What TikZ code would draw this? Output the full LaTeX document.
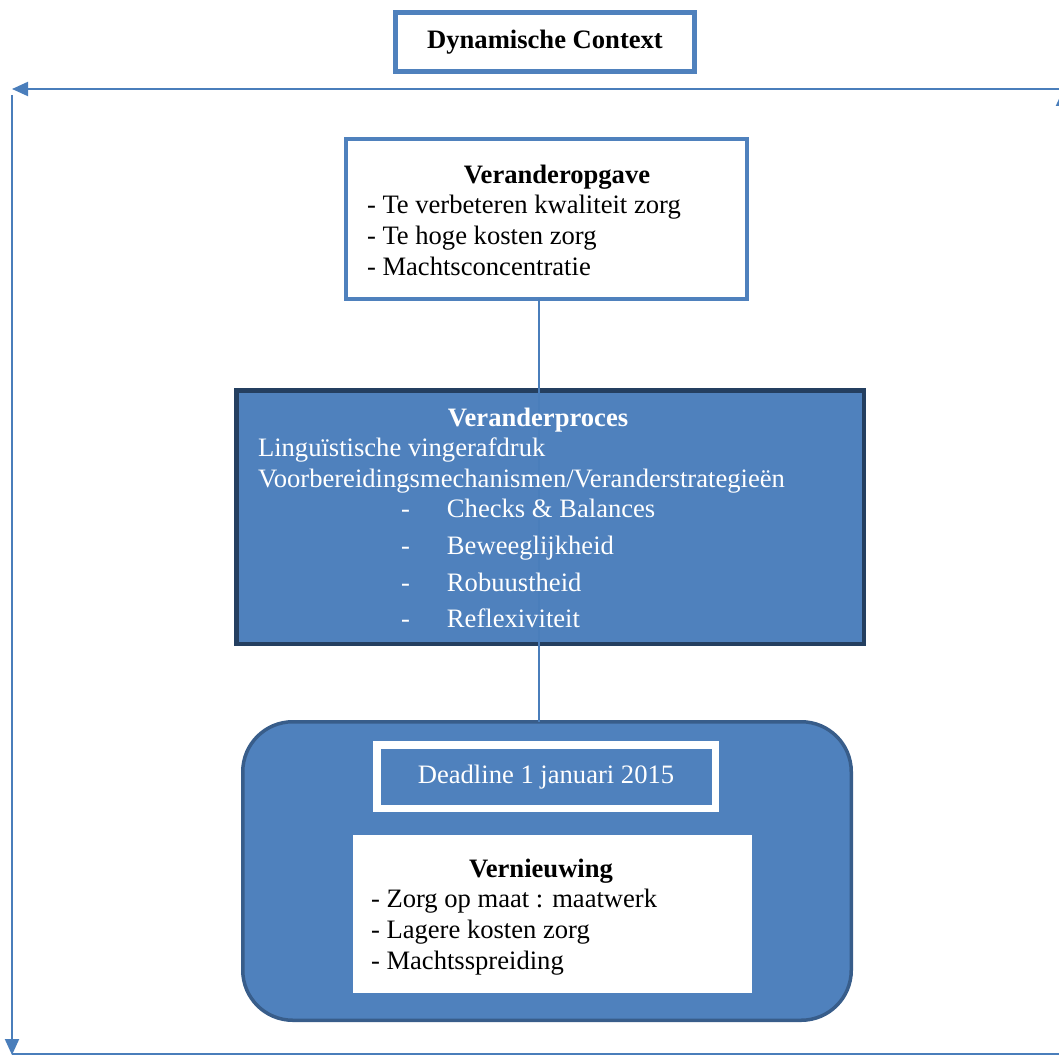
\documentclass[tikz,border=0pt]{standalone}
\usepackage{fontspec}
\setmainfont{Liberation Serif}
\usetikzlibrary{arrows.meta,shadows}

\definecolor{ofblue}{HTML}{4F81BD}
\definecolor{linkblue}{HTML}{4A7EBB}
\definecolor{navyedge}{HTML}{243F60}
\definecolor{roundedge}{HTML}{385D8A}

\tikzset{
  box/.style={rectangle, inner sep=0pt, outer sep=0pt},
  txt/.style={inner sep=0pt, outer sep=0pt, font=\fontsize{26.6}{31}\selectfont},
  ttl/.style={txt, font=\fontsize{26.6}{31}\selectfont\bfseries, anchor=base},
  item/.style={txt, anchor=base west},
  cycle line/.style={draw=linkblue, line width=2pt,
    -{Triangle[length=16pt,width=14pt]}},
  link/.style={draw=linkblue, line width=2pt}
}

\begin{document}
\begin{tikzpicture}[x=1pt,y=-1pt]
\useasboundingbox[fill=white] (0,0) rectangle (1059,1056);

% outer cycle around the whole scheme
\coordinate (tr) at (1063,89);
\coordinate (tl) at (12,89);
\coordinate (lt) at (12,95);
\coordinate (lb) at (12,1055);
\coordinate (bl) at (12,1054);
\coordinate (br) at (1063,1054);
\coordinate (rb) at (1063,1054);
\coordinate (rt) at (1063,90);
\draw[cycle line] (tr) -- (tl);
\draw[cycle line] (lt) -- (lb);
\draw[link] (bl) -- (br);
\draw[cycle line] (rb) -- (rt);

% title box
\node[box, draw=ofblue, line width=4.5pt, fill=white,
      minimum width=299pt, minimum height=59pt] (ctx) at (545,42) {};
\node[ttl] (ctxt) at (545,49) {Dynamische Context};

% change task
\node[box, draw=ofblue, line width=4pt, fill=white,
      minimum width=401pt, minimum height=160pt] (opg) at (546.5,219) {};

% change process
\node[box, draw=navyedge, line width=4.5pt, fill=ofblue,
      minimum width=627.5pt, minimum height=253.5pt] (proc) at (550,517) {};

% renewal
\node[box, draw=roundedge, line width=3.5pt, fill=ofblue, rounded corners=50pt,
      minimum width=608.5pt, minimum height=298.5pt] (ren) at (547,871) {};

% connector through the middle
\draw[link] ([xshift=-7.5pt]opg.south) -- ([xshift=-7.5pt]opg.south |- ren.north);

% texts of the change task
\node[ttl] (opgt) at (557,184) {Veranderopgave};
\node[item] (o1) at (367,214) {- Te verbeteren kwaliteit zorg};
\node[item] (o2) at (367,245) {- Te hoge kosten zorg};
\node[item] (o3) at (367,276) {- Machtsconcentratie};

% texts of the change process
\begin{scope}[every node/.append style={text=white}]
\node[ttl] (proct) at (538,426) {Veranderproces};
\node[item] (p1) at (258,456) {Linguïstische vingerafdruk};
\node[item] (p2) at (258,487) {Voorbereidingsmechanismen/Veranderstrategieën};
\node[item] (p3) at (401,517) {\makebox[46pt][l]{-}Checks \& Balances};
\node[item] (p4) at (401,554) {\makebox[46pt][l]{-}Beweeglijkheid};
\node[item] (p5) at (401,591) {\makebox[46pt][l]{-}Robuustheid};
\node[item] (p6) at (401,627) {\makebox[46pt][l]{-}Reflexiviteit};
\end{scope}

% deadline
\node[box, draw=white, line width=7.5pt, fill=ofblue,
      minimum width=338.5pt, minimum height=63.5pt,
      drop shadow={opacity=0.35, shadow xshift=1.5pt, shadow yshift=-2.5pt}]
      (dl) at (546,776.75) {};
\node[txt, anchor=base, text=white] (dlt) at (546,783) {Deadline 1 januari 2015};

% renewal content
\node[box, fill=white, minimum width=399pt, minimum height=158pt] (vern) at (552.5,914) {};
\node[ttl] (vernt) at (541,877) {Vernieuwing};
\node[item] (v1) at (371,907) {- Zorg op maat : maatwerk};
\node[item] (v2) at (371,938) {- Lagere kosten zorg};
\node[item] (v3) at (371,969) {- Machtsspreiding};
\end{tikzpicture}
\end{document}
